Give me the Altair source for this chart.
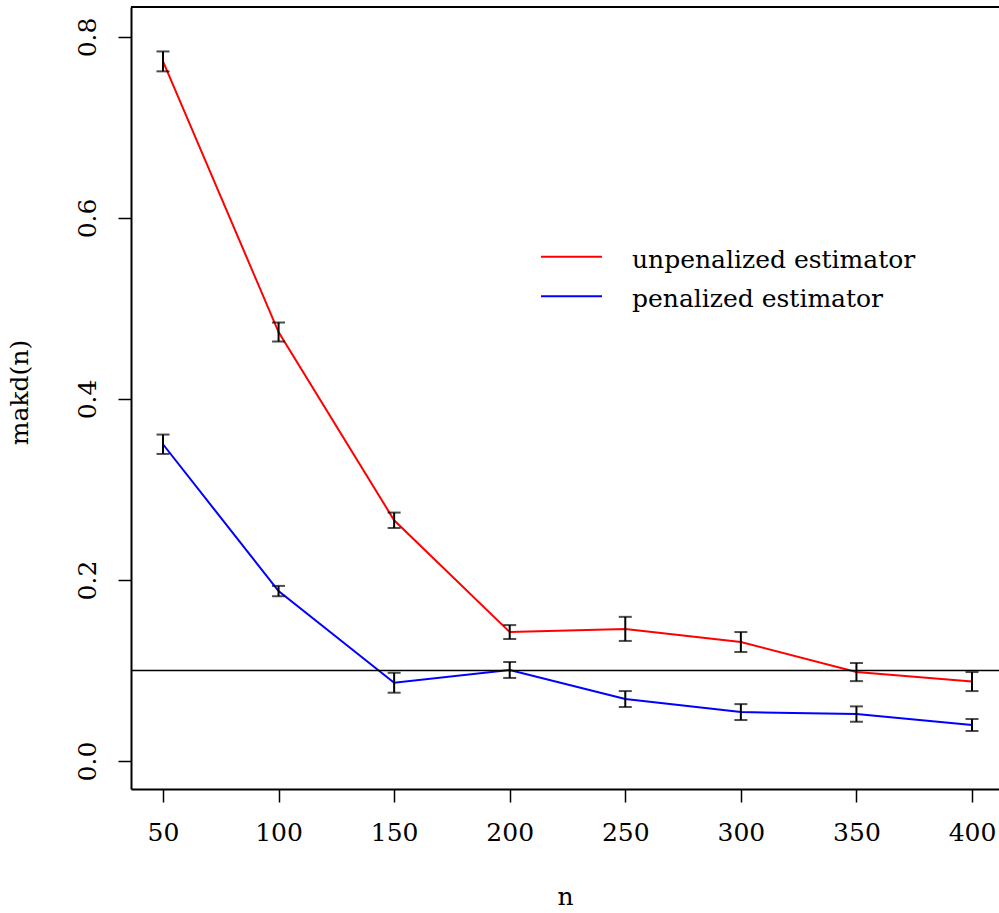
import altair as alt
import pandas as pd

# ---- data ----
n_values = [50, 100, 150, 200, 250, 300, 350, 400]
unpen_mean = [0.773, 0.474, 0.266, 0.1425, 0.146, 0.1315, 0.0983, 0.0878]
unpen_half = [0.011, 0.0105, 0.0085, 0.0077, 0.0133, 0.011, 0.010, 0.0105]
pen_mean = [0.350, 0.1878, 0.0865, 0.1006, 0.0685, 0.0541, 0.0519, 0.0398]
pen_half = [0.0107, 0.0057, 0.011, 0.0088, 0.0088, 0.0088, 0.0085, 0.0066]
series_names = ["unpenalized estimator", "penalized estimator"]
series_colors = ["#ff0000", "#0000ff"]
reference_level = 0.1
x_ticks = [50, 100, 150, 200, 250, 300, 350, 400]
y_ticks = [0.0, 0.2, 0.4, 0.6, 0.8]

rows = []
for name, means, halves in [(series_names[0], unpen_mean, unpen_half),
                            (series_names[1], pen_mean, pen_half)]:
    for n, m, h in zip(n_values, means, halves):
        rows.append({"series": name, "n": n, "mean": m, "lo": m - h, "hi": m + h})
df = pd.DataFrame(rows)

FONT = "DejaVu Serif"
FS = 25

xscale = alt.Scale(domain=[36.16, 411.68], nice=False, zero=False)
yscale = alt.Scale(domain=[-0.0309, 0.8331], nice=False, zero=False)

xaxis = alt.Axis(values=x_ticks, format="d", tickSize=13, tickWidth=1.5, tickColor="black",
                 domain=True, domainColor="black", domainWidth=2, grid=False,
                 labelFont=FONT, labelFontSize=FS, labelColor="black", labelPadding=18,
                 labelFlush=False, labelOverlap=False,
                 title="n", titleFont=FONT, titleFontSize=FS, titleFontWeight="normal",
                 titleColor="black", titleY=115, titleBaseline="alphabetic")
yaxis = alt.Axis(values=y_ticks, format=".1f", tickSize=13, tickWidth=1.5, tickColor="black",
                 domain=True, domainColor="black", domainWidth=2, grid=False,
                 labelFont=FONT, labelFontSize=FS, labelColor="black", labelPadding=23,
                 labelAngle=270, labelAlign="center", labelBaseline="alphabetic",
                 labelFlush=False, labelOverlap=False,
                 title="makd(n)", titleFont=FONT, titleFontSize=FS, titleFontWeight="normal",
                 titleColor="black", titleAngle=270, titleX=-104, titleY=385,
                 titleAlign="center", titleBaseline="alphabetic")

base = alt.Chart(df)

lines = base.mark_line(strokeWidth=2).encode(
    x=alt.X("n:Q", scale=xscale, axis=xaxis),
    y=alt.Y("mean:Q", scale=yscale, axis=yaxis),
    color=alt.Color("series:N", scale=alt.Scale(domain=series_names, range=series_colors), legend=None),
    detail="series:N",
)

bars = base.mark_rule(color="black", strokeWidth=2).encode(
    x=alt.X("n:Q", scale=xscale), y=alt.Y("lo:Q", scale=yscale), y2="hi:Q")
cap_lo = base.mark_tick(color="black", orient="horizontal", size=13, thickness=2).encode(
    x=alt.X("n:Q", scale=xscale), y=alt.Y("lo:Q", scale=yscale))
cap_hi = base.mark_tick(color="black", orient="horizontal", size=13, thickness=2).encode(
    x=alt.X("n:Q", scale=xscale), y=alt.Y("hi:Q", scale=yscale))

ref = alt.Chart(pd.DataFrame({"level": [reference_level]})).mark_rule(
    color="black", strokeWidth=1.5).encode(y=alt.Y("level:Q", scale=yscale))

one = pd.DataFrame({"k": [0]})
top_border = alt.Chart(one).mark_rule(color="black", strokeWidth=2).encode(
    y=alt.value(0), x=alt.value(0), x2=alt.value(868))

legend_layers = []
for i, (name, col) in enumerate(zip(series_names, series_colors)):
    ly = 249.7 + 39.5 * i
    legend_layers.append(alt.Chart(one).mark_rule(color=col, strokeWidth=2).encode(
        x=alt.value(410), x2=alt.value(471), y=alt.value(ly)))
    legend_layers.append(alt.Chart(one).mark_text(
        font=FONT, fontSize=FS, color="black", align="left", baseline="alphabetic").encode(
        x=alt.value(501), y=alt.value(ly + 11), text=alt.value(name)))

chart = alt.layer(lines, ref, bars, cap_lo, cap_hi, top_border, *legend_layers).properties(
    width=868, height=782,
    padding={"left": 131, "top": 7, "right": 0, "bottom": 124},
    autosize=alt.AutoSizeParams(type="none"),
    background="white",
).configure_view(stroke=None).configure(font=FONT)

chart.save("out.html", embed_options={"renderer": "svg", "actions": False})
